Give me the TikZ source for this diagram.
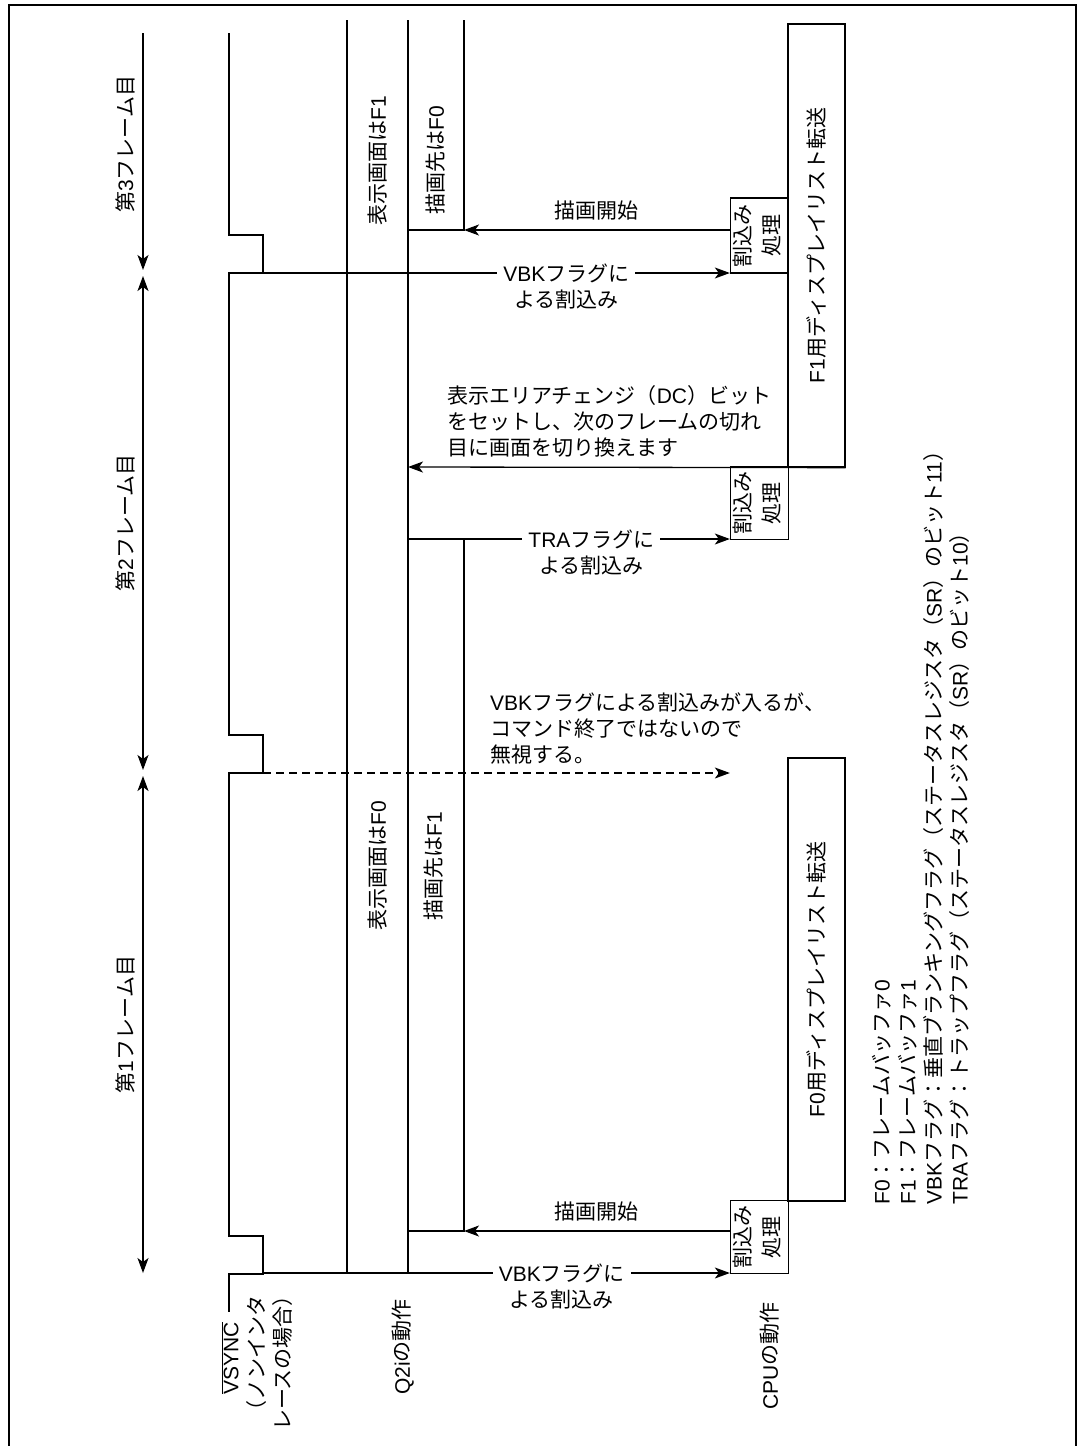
\documentclass[tikz,border=0pt]{standalone}
\usepackage{fontspec}
\setmainfont{Liberation Sans}
\newfontfamily\lat{Liberation Sans}
\newfontfamily\cjk{Noto Sans CJK JP}
\usetikzlibrary{arrows.meta}

% kana, kanji and full-width forms in Noto, the rest in Liberation Sans
\XeTeXinterchartokenstate=1
\newXeTeXintercharclass\jpclass
\newcommand\setjp[2]{\count255=#1 \loop\XeTeXcharclass\count255=\jpclass \ifnum\count255<#2 \advance\count255 by 1 \repeat}
\setjp{"3000}{"30FF}
\setjp{"4E00}{"9FFF}
\setjp{"FF00}{"FF60}
\XeTeXinterchartoks 0 \jpclass = {\cjk}
\XeTeXinterchartoks 4095 \jpclass = {\cjk}
\XeTeXinterchartoks \jpclass 0 = {\lat}
\XeTeXinterchartoks 4095 0 = {\lat}

\newcommand\jp{\fontsize{21pt}{26pt}\selectfont}
\newcommand\jpbox{\fontsize{21pt}{29pt}\selectfont}
\newcommand\irqtext{\rotatebox{90}{\begin{tabular}{@{}c@{}}割込み\\処理\end{tabular}}}

\begin{document}
\begin{tikzpicture}[x=1pt, y=-1pt,
		sig/.style={line width=1.3pt},
		ar/.style={sig, -{Stealth[length=15pt, width=11pt, inset=4pt]}},
		twoar/.style={sig, {Stealth[length=15pt, width=11pt, inset=4pt]}-{Stealth[length=15pt, width=11pt, inset=4pt]}},
		txt/.style={font=\jp, inner sep=0pt, align=center},
		vtxt/.style={txt, rotate=90},
		frametxt/.style={xshift=-18pt, vtxt},
		flag/.style={txt, fill=white, inner sep=6pt},
		irqbox/.style={draw, sig, font=\jpbox, inner sep=0pt, minimum width=57pt, minimum height=73pt},
		listbox/.style={draw, sig, font=\jp, inner sep=0pt, minimum width=57pt, minimum height=443pt}]
		\def\xv{229} \def\xp{263}
		\def\xa{347} \def\xb{408} \def\xc{464}

		\useasboundingbox (0,0) rectangle (1080,1446);
		\draw[sig] (9,1446) |- (1076,5) -- (1076,1446);

		% VSYNC
		\draw[sig] (\xv,33) foreach \t in {235,735,1236} { -- (\xv,\t) -- (\xp,\t) -- (\xp,\t+38) -- (\xv,\t+38) } -- (\xv,1312);
		\coordinate (v3) at (\xp,273);
		\coordinate (v2) at (\xp,773);
		\coordinate (v1) at (\xp,1273);

		% frames
		\draw[ar] (143,33) -- (143,270) node[frametxt, pos=0.47] (fr3) {第3フレーム目};
		\draw[twoar] (143,276) -- (143,770) node[frametxt, midway] (fr2) {第2フレーム目};
		\draw[twoar] (143,776) -- (143,1273) node[frametxt, midway] (fr1) {第1フレーム目};

		% Q2i
		\draw[sig] (\xa,20) -- (\xa,1273);
		\draw[sig] (\xb,20) -- (\xb,1273);
		\draw[sig] (\xc,20) |- (\xb,230);
		\draw[sig] (\xb,539) rectangle (\xc,1231);
		\coordinate (d3) at (\xc,230);
		\coordinate (dc) at (\xb,467);
		\coordinate (tra) at (\xb,539);
		\coordinate (d1) at (\xc,1231);

		\node[vtxt] (disp1) at (378,161) {表示画面はF1};
		\node[vtxt] (dest0) at (436,160) {描画先はF0};
		\node[vtxt] (disp0) at (378,866) {表示画面はF0};
		\node[vtxt] (dest1) at (434,866) {描画先はF1};

		% CPU
		\node[listbox] (f1) at (816.5,245.5) {\rotatebox{90}{F1用ディスプレイリスト転送}};
		\node[listbox] (f0) at (816.5,979.5) {\rotatebox{90}{F0用ディスプレイリスト転送}};
		\node[irqbox, minimum height=75pt] (irq3) at (759.5,235.5) {\irqtext};
		\node[irqbox] (irq2) at (759.5,503) {\irqtext};
		\node[irqbox] (irq1) at (759.5,1237) {\irqtext};

		% interrupts
		\draw[ar] (irq3.west |- d3) -- (d3) node[txt, midway, above=9pt] (start3) {描画開始};
		\draw[ar] (v3) -- (irq3.west |- v3) node[flag, pos=0.65, yshift=-13pt] (vbk3) {VBKフラグに\\よる割込み};
		\draw[ar] (f1.south east) -- (dc);
		\node[txt, align=left, anchor=west] (dcnote) at (447,421.5) {表示エリアチェンジ（DC）ビット\\をセットし、次のフレームの切れ\\目に画面を切り換えます};
		\draw[ar] (tra) -- (irq2.west |- tra) node[flag, pos=0.57, yshift=-13pt] (tralbl) {TRAフラグに\\よる割込み};
		\draw[ar, dash pattern=on 8pt off 5pt] (v2) -- (irq2.west |- v2);
		\node[txt, align=left, anchor=west] (ignore) at (490,728.5) {VBKフラグによる割込みが入るが、\\コマンド終了ではないので\\無視する。};
		\draw[ar] (irq1.west |- d1) -- (d1) node[txt, midway, above=9pt] (start1) {描画開始};
		\draw[ar] (v1) -- (irq1.west |- v1) node[flag, pos=0.64, yshift=-13pt] (vbk1) {VBKフラグに\\よる割込み};

		% labels
		\node[vtxt] (vsync) at (257,1358) {$\overline{\hbox{VSYNC}}$\\（ノンインタ\\レースの場合）};
		\node[vtxt] (q2i) at (403,1347) {Q2iの動作};
		\node[vtxt] (cpu) at (770,1356) {CPUの動作};
		\node[txt, align=left, rotate=90, anchor=west] (legend) at (921,1205) {F0：フレームバッファ0\\F1：フレームバッファ1\\VBKフラグ：垂直ブランキングフラグ（ステータスレジスタ（SR）のビット11）\\TRAフラグ：トラップフラグ（ステータスレジスタ（SR）のビット10）};
	\end{tikzpicture}
\end{document}
